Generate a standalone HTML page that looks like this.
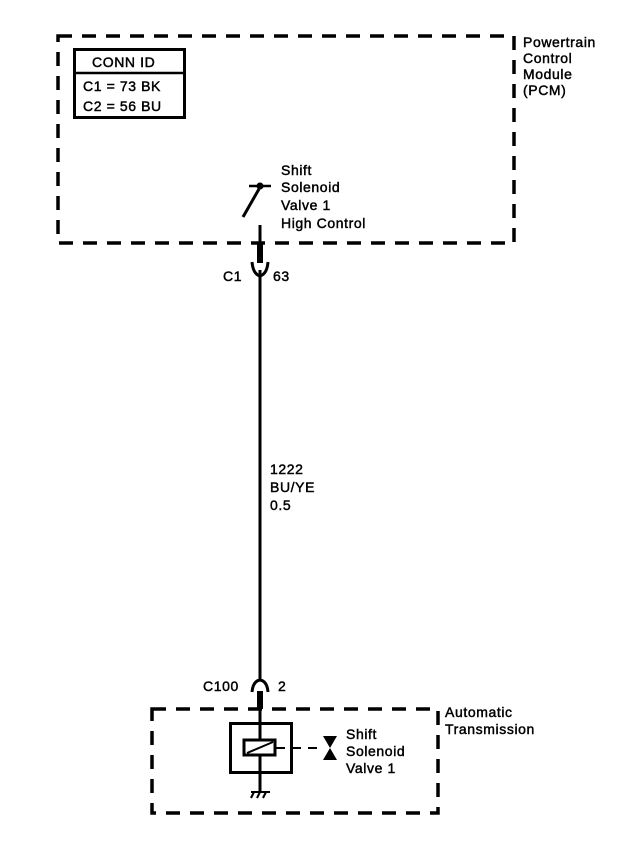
<!DOCTYPE html>
<html><head><style>body{margin:0;background:#fff}svg{display:block}text{font-family:"Liberation Sans",sans-serif;font-size:14px;fill:#000;stroke:#000;stroke-width:0.45;letter-spacing:0.6px}</style></head>
<body>
<svg width="640" height="842" viewBox="0 0 640 842" xmlns="http://www.w3.org/2000/svg">
<g fill="none" stroke="#000" stroke-width="3.5" stroke-dasharray="14,10">
<rect x="58" y="36" width="456" height="207"/>
<rect x="152" y="709" width="286" height="104"/>
</g>
<rect x="74.5" y="49.5" width="110" height="68" fill="none" stroke="#000" stroke-width="3"/>
<line x1="74" y1="73" x2="185" y2="73" stroke="#000" stroke-width="2.5"/>
<text x="92" y="67">CONN ID</text>
<text x="83" y="91">C1 = 73 BK</text>
<text x="83" y="111">C2 = 56 BU</text>
<text x="523" y="47">Powertrain</text>
<text x="523" y="63">Control</text>
<text x="523" y="79">Module</text>
<text x="523" y="95">(PCM)</text>
<text x="281" y="175">Shift</text>
<text x="281" y="192">Solenoid</text>
<text x="281" y="210">Valve 1</text>
<text x="281" y="228">High Control</text>
<line x1="249" y1="186" x2="271" y2="186" stroke="#000" stroke-width="2.5"/>
<circle cx="260" cy="186" r="3.5"/>
<line x1="259" y1="189" x2="243" y2="217" stroke="#000" stroke-width="3"/>
<line x1="260" y1="225" x2="260" y2="262" stroke="#000" stroke-width="3"/>
<rect x="257" y="243" width="6" height="20"/>
<path d="M252 262 Q253 274 260 276 Q267 274 268 262" fill="none" stroke="#000" stroke-width="3"/>
<line x1="260" y1="270" x2="260" y2="680" stroke="#000" stroke-width="3"/>
<text x="223" y="281">C1</text>
<text x="273" y="281">63</text>
<text x="270" y="474">1222</text>
<text x="270" y="492">BU/YE</text>
<text x="270" y="510">0.5</text>
<text x="203" y="691">C100</text>
<text x="278" y="691">2</text>
<path d="M252 692 Q253 681 260 680 Q267 681 268 692" fill="none" stroke="#000" stroke-width="3"/>
<rect x="257" y="691" width="6" height="18"/>
<line x1="260" y1="705" x2="260" y2="792" stroke="#000" stroke-width="3"/>
<rect x="230.5" y="723.5" width="61" height="49" fill="none" stroke="#000" stroke-width="3"/>
<rect x="244" y="740" width="31" height="15" fill="#fff" stroke="#000" stroke-width="3"/>
<line x1="247" y1="753" x2="273" y2="742" stroke="#000" stroke-width="2"/>
<line x1="276" y1="748" x2="324" y2="748" stroke="#000" stroke-width="2" stroke-dasharray="9,7"/>
<polygon points="323,736 337,736 330,748" />
<polygon points="323,760 337,760 330,748" />
<line x1="251" y1="792" x2="270" y2="792" stroke="#000" stroke-width="2"/>
<line x1="254" y1="792" x2="251" y2="798" stroke="#000" stroke-width="2"/>
<line x1="260" y1="792" x2="257" y2="798" stroke="#000" stroke-width="2"/>
<line x1="266" y1="792" x2="263" y2="798" stroke="#000" stroke-width="2"/>
<text x="346" y="739">Shift</text>
<text x="346" y="756">Solenoid</text>
<text x="346" y="773">Valve 1</text>
<text x="445" y="717">Automatic</text>
<text x="445" y="734">Transmission</text>
</svg>
</body></html>
